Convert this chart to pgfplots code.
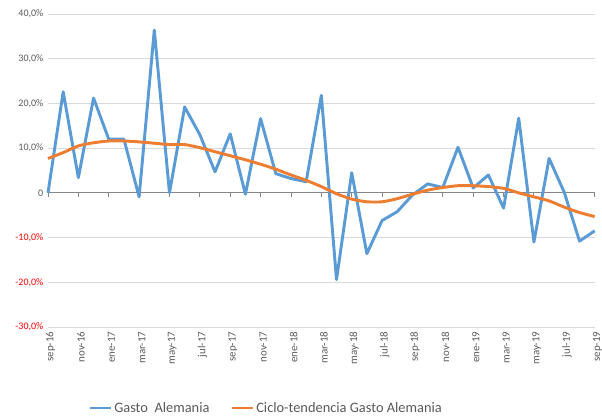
\documentclass[border=0pt]{standalone}
\usepackage{pgfplots}
\pgfplotsset{compat=1.18}
\usepackage{fontspec}
\setmainfont{Carlito}
\definecolor{gblue}{HTML}{5B9BD5}
\definecolor{gorange}{HTML}{ED7D31}
\definecolor{txtgray}{HTML}{595959}
\definecolor{gridgray}{HTML}{D9D9D9}
\definecolor{axgray}{HTML}{868686}
\definecolor{negred}{HTML}{FF0000}

% monthly series, index 0 = sep-16 ... 36 = sep-19
\pgfplotstableread{
i gasto trend
0  0.0   7.7
1  22.6  9.0
2  3.4   10.5
3  21.2  11.2
4  12.0  11.6
5  12.0  11.6
6  -0.9  11.4
7  36.4  11.1
8  0.0   10.8
9  19.2  10.8
10 13.0  10.1
11 4.7   9.2
12 13.2  8.3
13 -0.3  7.4
14 16.6  6.4
15 4.3   5.3
16 3.2   4.0
17 2.5   2.8
18 21.8  1.4
19 -19.4 -0.2
20 4.5   -1.4
21 -13.6 -2.0
22 -6.2  -2.0
23 -4.2  -1.3
24 -0.5  -0.3
25 2.0   0.6
26 1.2   1.2
27 10.2  1.6
28 1.1   1.6
29 4.0   1.4
30 -3.4  1.0
31 16.7  0.0
32 -11.0 -0.9
33 7.7   -1.8
34 0.1   -3.2
35 -10.8 -4.4
36 -8.5  -5.3
}\datatable

\begin{document}
\begin{tikzpicture}
\begin{axis}[
  scale only axis, width=410pt, height=234.75pt,
  xmin=0, xmax=36, ymin=-30, ymax=40,
  axis x line*=bottom, axis y line*=left,
  x axis line style={draw=none, -}, y axis line style={draw=none, -},
  major tick style={draw=none},
  xtick={0,2,...,36},
  xticklabels={sep-16,nov-16,ene-17,mar-17,may-17,jul-17,sep-17,nov-17,ene-18,mar-18,may-18,jul-18,sep-18,nov-18,ene-19,mar-19,may-19,jul-19,sep-19},
  x tick label style={rotate=90, anchor=east, font=\fontsize{8.2}{9}\selectfont, text=txtgray, yshift=-2pt},
  ytick={-30,-20,-10,10,20,30,40},
  yticklabels={\textcolor{negred}{-30,0\%},\textcolor{negred}{-20,0\%},\textcolor{negred}{-10,0\%},{10,0\%},{20,0\%},{30,0\%},{40,0\%}},
  extra y ticks={0}, extra y tick labels={{0,0\%}},
  extra y tick style={grid style={axgray, line width=0.9pt}},
  y tick label style={font=\fontsize{7.5}{9}\selectfont, text=txtgray},
  ymajorgrids, grid style={gridgray, line width=0.7pt},
  legend columns=2,
  legend style={draw=none, font=\fontsize{10.8}{12}\selectfont, text=txtgray,
    at={(axis description cs:0.40,-0.259)}, anchor=center,
    /tikz/every even column/.append style={column sep=14pt}},
  legend image code/.code={\draw[#1, line width=1.6pt] (0pt,0pt) -- (15.5pt,0pt);},
  clip=false,
]
\pgfplotsinvokeforeach{0,2,...,36}{\draw[axgray, line width=0.7pt] (axis cs:#1,0) -- ++(0pt,-3pt);}
\addplot[gblue, line width=2.2pt, line join=round] table[x=i, y=gasto] {\datatable};
\addplot[gorange, line width=2.2pt, smooth, tension=0.4] table[x=i, y=trend] {\datatable};
\legend{Gasto\ \ Alemania, Ciclo-tendencia Gasto Alemania}
\end{axis}
\pgfresetboundingbox
\path (current axis.south west) ++(-36pt,-69pt) coordinate (bl);
\path (current axis.north east) ++(5.5pt,10.5pt) coordinate (tr);
\path[use as bounding box] (bl) rectangle (tr);
\end{tikzpicture}
\end{document}
